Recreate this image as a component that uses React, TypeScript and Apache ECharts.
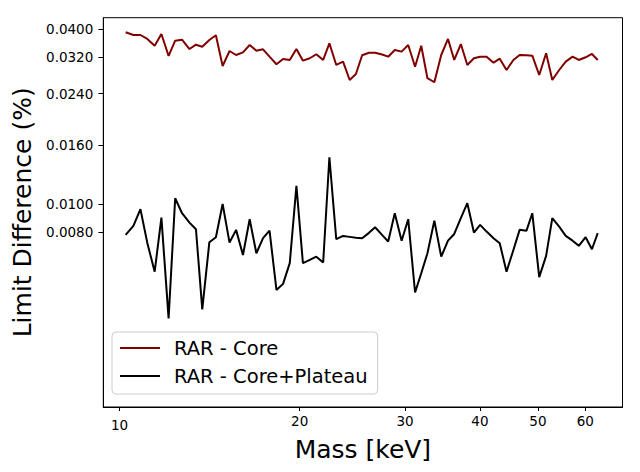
import React, { useEffect, useRef } from "react";
import * as echarts from "echarts";

const masses = [
  10.24, 10.55, 10.84, 11.13, 11.45, 11.75, 12.08, 12.39, 12.72, 13.09,
  13.42, 13.75, 14.13, 14.49, 14.87, 15.27, 15.66, 16.08, 16.5, 16.93,
  17.37, 17.81, 18.29, 18.76, 19.25, 19.75, 20.25, 20.79, 21.32, 21.89,
  22.42, 23.02, 23.63, 24.24, 24.83, 25.43, 26.11, 26.73, 27.45, 28.11,
  28.83, 29.6, 30.36, 31.17, 31.92, 32.69, 33.57, 34.47, 35.38, 36.24,
  37.17, 38.11, 39.09, 40.03, 41.04, 42.15, 43.17, 44.31, 45.5, 46.6,
  47.85, 48.93, 50.25, 51.6, 52.84, 54.26, 55.64, 57.13, 58.51, 60.07,
  61.54, 62.93,
];

const coreValues = [
  0.03906, 0.03823, 0.03823, 0.03704, 0.03512, 0.03854, 0.03237, 0.03654, 0.03683, 0.03421,
  0.0354, 0.03484, 0.03675, 0.03814, 0.0299, 0.03367, 0.03262, 0.03332, 0.03532, 0.03375,
  0.03413, 0.03219, 0.03031, 0.03161, 0.03136, 0.03421, 0.03119, 0.03179, 0.03281, 0.03136,
  0.03579, 0.03014, 0.03094, 0.02676, 0.02806, 0.03255, 0.03322, 0.03322, 0.03275, 0.03219,
  0.03394, 0.0335, 0.03532, 0.02973, 0.03512, 0.02713, 0.02628, 0.03262, 0.03704, 0.03136,
  0.03559, 0.03014, 0.03179, 0.03219, 0.03219, 0.03069, 0.03169, 0.02896, 0.03136, 0.03262,
  0.03255, 0.03245, 0.02784, 0.03307, 0.02676, 0.02896, 0.03094, 0.03219, 0.03136, 0.03204,
  0.03289, 0.03136,
];

const plateauValues = [
  0.00783, 0.00841, 0.0096, 0.00735, 0.00585, 0.00898, 0.00404, 0.01047, 0.0093, 0.00863,
  0.00819, 0.00434, 0.00739, 0.00769, 0.01001, 0.00737, 0.00815, 0.00668, 0.00887, 0.00677,
  0.00763, 0.0081, 0.00506, 0.00531, 0.00626, 0.01155, 0.00626, 0.00642, 0.00659, 0.00629,
  0.0145, 0.00757, 0.00777, 0.00771, 0.00765, 0.00763, 0.00796, 0.00832, 0.00783, 0.00743,
  0.0093, 0.00748, 0.00887, 0.00496, 0.00578, 0.00677, 0.00877, 0.00659, 0.00748, 0.00789,
  0.00894, 0.01007, 0.00798, 0.00848, 0.00804, 0.00763, 0.00733, 0.00585, 0.00695, 0.00815,
  0.0081, 0.0093, 0.0056, 0.00663, 0.00894, 0.00836, 0.00777, 0.00748, 0.00718, 0.00769,
  0.00699, 0.00794,
];

const seriesNames = ["RAR - Core", "RAR - Core+Plateau"];
const seriesColors = ["#800000", "#000000"];
const xTickLabels = [10, 20, 30, 40, 50, 60];
const yTickLabels = [0.008, 0.01, 0.016, 0.024, 0.032, 0.04];
const xRange = [9.397, 69.22];
const yRange = [0.002, 0.04385];

const FONT = "DejaVu Sans";
const lg = (v: number) => Math.log10(v);

export default function App() {
  const ref = useRef<HTMLDivElement>(null);

  useEffect(() => {
    document.body.style.margin = "0";
    if (!ref.current) return;
    const chart = echarts.init(ref.current, null, { renderer: "svg" });

    const toPoints = (vals: number[]) => masses.map((m, i) => [lg(m), lg(vals[i])]);

    chart.setOption({
      animation: false,
      backgroundColor: "#ffffff",
      grid: {
        left: 103.3,
        right: 17.5,
        top: 17.7,
        bottom: 65,
        show: true,
        borderColor: "#000",
        borderWidth: 1,
        containLabel: false,
        outerBoundsMode: "none",
      },
      legend: {
        data: seriesNames.map((n) => ({ name: n, icon: "rect" })),
        orient: "vertical",
        left: 112,
        top: 332,
        itemWidth: 40,
        itemHeight: 2,
        itemGap: 6,
        padding: [5, 10, 7, 8],
        backgroundColor: "rgba(255,255,255,0.8)",
        borderColor: "#cccccc",
        borderWidth: 1,
        borderRadius: 4,
        textStyle: {
          fontSize: 19.5,
          lineHeight: 22,
          color: "#000",
          fontFamily: FONT,
          padding: [0, 0, 0, 9],
        },
      },
      xAxis: {
        type: "value",
        min: lg(xRange[0]),
        max: lg(xRange[1]),
        axisLine: { show: true, onZero: false, lineStyle: { color: "#000", width: 1 } },
        axisTick: {
          show: true,
          customValues: xTickLabels.map(lg),
          length: 4,
          lineStyle: { color: "#000", width: 1 },
        },
        axisLabel: {
          customValues: xTickLabels.map(lg),
          margin: 7,
          fontSize: 13.5,
          color: "#000",
          fontFamily: FONT,
          formatter: (v: number) => {
            const n = Math.round(Math.pow(10, v));
            return n === 10 ? "{m|10}" : String(n);
          },
          rich: { m: { padding: [4, 0, 0, 0], fontSize: 13.5, color: "#000", fontFamily: FONT } },
        },
        splitLine: { show: false },
        name: "Mass [keV]",
        nameLocation: "middle",
        nameGap: 23,
        nameTextStyle: { fontSize: 25, color: "#000", fontFamily: FONT },
      },
      yAxis: {
        type: "value",
        min: lg(yRange[0]),
        max: lg(yRange[1]),
        axisLine: { show: true, onZero: false, lineStyle: { color: "#000", width: 1 } },
        axisTick: {
          show: true,
          customValues: yTickLabels.map(lg),
          length: 5,
          lineStyle: { color: "#000", width: 1 },
        },
        axisLabel: {
          customValues: yTickLabels.map(lg),
          margin: 10,
          fontSize: 13.5,
          color: "#000",
          fontFamily: FONT,
          formatter: (v: number) => Math.pow(10, v).toFixed(4),
        },
        splitLine: { show: false },
        name: "Limit Difference (%)",
        nameLocation: "middle",
        nameGap: 63,
        nameTextStyle: { fontSize: 25, color: "#000", fontFamily: FONT },
      },
      series: [
        {
          name: seriesNames[0],
          type: "line",
          data: toPoints(coreValues),
          symbol: "none",
          lineStyle: { color: seriesColors[0], width: 2 },
          itemStyle: { color: seriesColors[0] },
          z: 2,
        },
        {
          name: seriesNames[1],
          type: "line",
          data: toPoints(plateauValues),
          symbol: "none",
          lineStyle: { color: seriesColors[1], width: 2 },
          itemStyle: { color: seriesColors[1] },
          z: 3,
        },
      ],
    });

    return () => chart.dispose();
  }, []);

  return <div ref={ref} style={{ width: 640, height: 472 }} />;
}
